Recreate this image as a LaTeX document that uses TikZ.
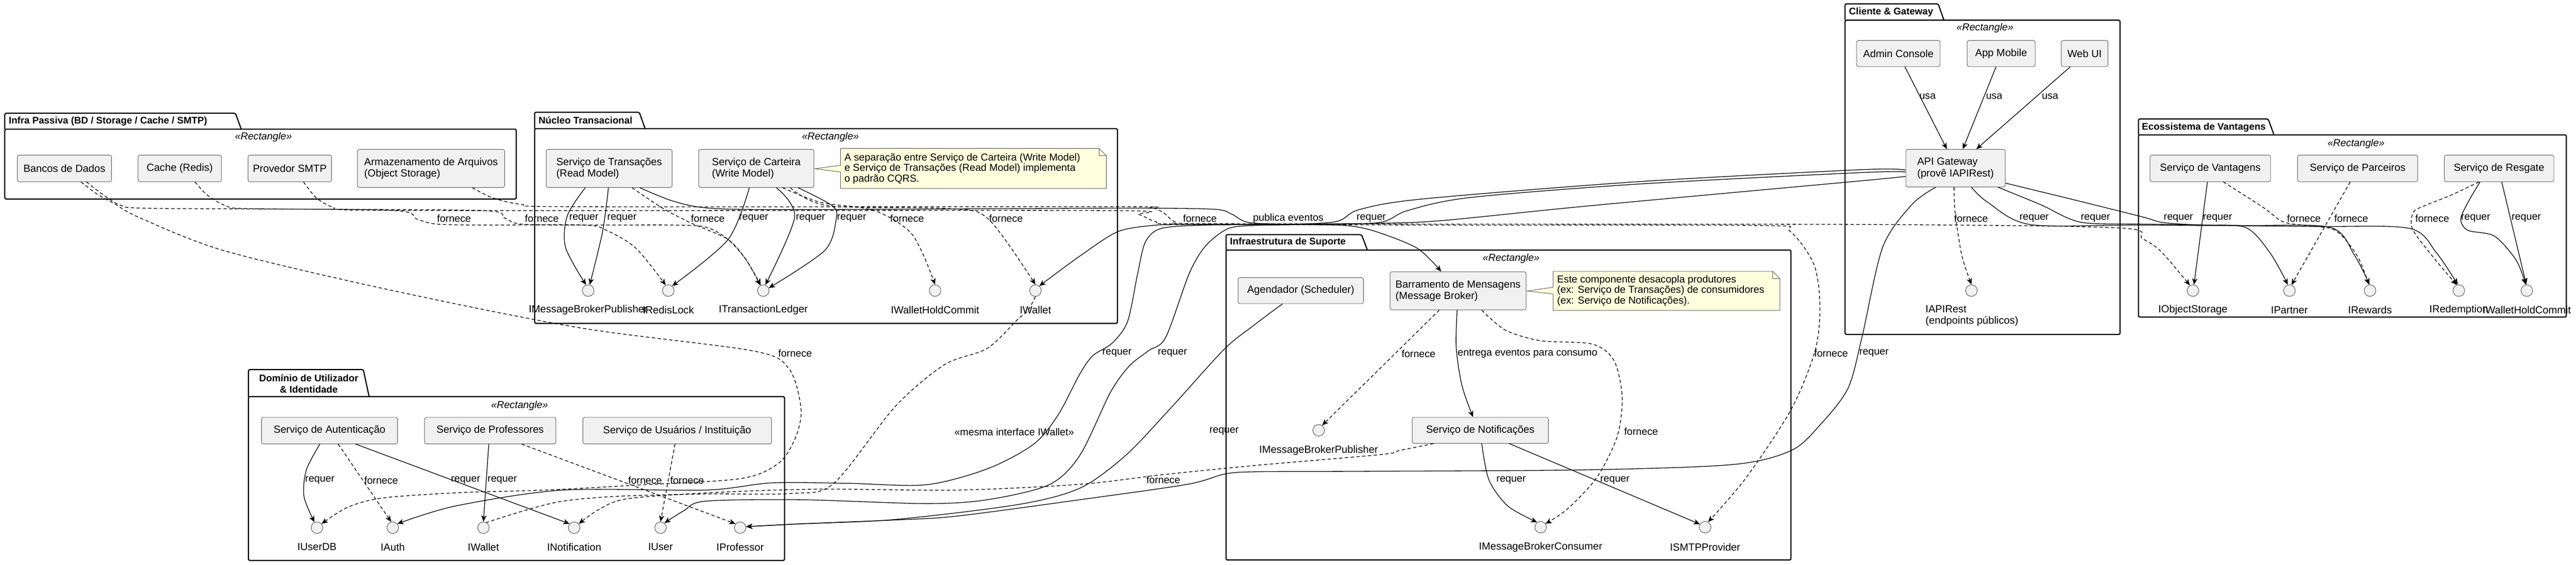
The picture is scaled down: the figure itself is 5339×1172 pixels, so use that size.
\documentclass[tikz,border=0pt]{standalone}
\usepackage{fontspec}
\setmainfont{Liberation Sans}
\usetikzlibrary{arrows.meta}
\definecolor{cfill}{HTML}{F1F1F1}
\definecolor{nfill}{HTML}{FEFFDD}
\newcommand\cfs{\fontsize{21.5}{24}\selectfont}
\newcommand\lfs{\fontsize{21}{24}\selectfont}
\newcommand\nfs{\fontsize{21}{22}\selectfont}
\newcommand\tfs{\fontsize{20}{23}\selectfont\bfseries}
\newcommand\pkgdraw[6]{%
  \draw[pkgline] (#1,#3) -- (#1,#2) -- (#4-12,#2) -- (#4,#3);
  \draw[pkgline] (#1,#3) rectangle (#5,#6);}
\begin{document}
\begin{tikzpicture}[x=1pt,y=-1pt,
 comp/.style={rectangle, rounded corners=4pt, draw=black!65, line width=1pt, fill=cfill, inner sep=0pt, align=left, font=\cfs},
 ifc/.style={circle, draw=black!70, line width=1pt, fill=cfill, minimum size=24pt, inner sep=0pt},
 ilbl/.style={font=\cfs, inner sep=0pt},
 lbl/.style={font=\lfs, inner sep=0pt},
 stereo/.style={font=\lfs\itshape, inner sep=0pt},
 ttl/.style={font=\tfs, inner sep=0pt, anchor=west},
 pkgline/.style={line width=2.4pt, rounded corners=3pt},
 notebg/.style={fill=nfill, draw=black!65, line width=1pt},
 notetxt/.style={font=\nfs, inner sep=0pt, align=left, anchor=west},
 req/.style={line width=1.4pt, -{Stealth[length=13pt,width=11pt,inset=3.5pt]}},
 prov/.style={req, dash pattern=on 7pt off 5pt},
 lnk/.style={line width=1.4pt, dash pattern=on 7pt off 5pt},
 sm/.style={smooth, tension=0.5}
]
\useasboundingbox (0,0) rectangle (5339,1172);

% ---------------- packages ----------------
\pkgdraw{10}{235}{268}{500}{1070}{413}
\pkgdraw{1108}{233}{267}{1337}{2316}{671}
\pkgdraw{515}{767}{823}{765}{1626}{1163}
\pkgdraw{2541}{487}{519}{2834}{3712}{1162}
\pkgdraw{3824}{8}{42}{4029}{4394}{694}
\pkgdraw{4432}{247}{280}{4713}{5319}{658}

\node[ttl] (tInfra) at (18,252) {Infra Passiva (BD / Storage / Cache / SMTP)};
\node[ttl] (tNucleo) at (1116,250) {Núcleo Transacional};
\node[font=\tfs, inner sep=0pt, align=center] (tDom) at (640,796) {Domínio de Utilizador\\\& Identidade};
\node[ttl] (tSup) at (2549,503) {Infraestrutura de Suporte};
\node[ttl] (tCli) at (3832,25) {Cliente \& Gateway};
\node[ttl] (tEco) at (4439,264) {Ecossistema de Vantagens};

\node[stereo] (sInfra) at (546,285) {«Rectangle»};
\node[stereo] (sNucleo) at (1721,285) {«Rectangle»};
\node[stereo] (sDom) at (1077,842) {«Rectangle»};
\node[stereo] (sSup) at (3132,537) {«Rectangle»};
\node[stereo] (sCli) at (4114,58) {«Rectangle»};
\node[stereo] (sEco) at (4883,298) {«Rectangle»};

% ---------------- notes ----------------
\draw[notebg] (1742,308) -- (2278,308) -- (2293,323) -- (2293,391) -- (1742,391) -- (1742,357) -- (1689,350) -- (1742,343) -- cycle;
\draw[notebg, fill=none] (2278,308) -- (2278,323) -- (2293,323);
\node[notetxt] (note1) at (1750,350) {A separação entre Serviço de Carteira (Write Model)\\e Serviço de Transações (Read Model) implementa\\o padrão CQRS.};
\draw[notebg] (3219,563) -- (3674,563) -- (3689,578) -- (3689,644) -- (3219,644) -- (3219,610) -- (3165,604) -- (3219,596) -- cycle;
\draw[notebg, fill=none] (3674,563) -- (3674,578) -- (3689,578);
\node[notetxt] (note2) at (3227,603) {Este componente desacopla produtores\\(ex: Serviço de Transações) de consumidores\\(ex: Serviço de Notificações).};

% ---------------- components ----------------
\node[comp, minimum width=195pt, minimum height=55pt] (bd) at (133.5,349.5) {Bancos de Dados};
\node[comp, minimum width=173pt, minimum height=55pt] (cache) at (372.5,349.5) {Cache (Redis)};
\node[comp, minimum width=173pt, minimum height=55pt] (smtp) at (600.5,349.5) {Provedor SMTP};
\node[comp, minimum width=305pt, minimum height=79pt] (storage) at (893.5,349.5) {Armazenamento de Arquivos\\(Object Storage)};

\node[comp, minimum width=261pt, minimum height=79pt] (trans) at (1262.5,349.5) {Serviço de Transações\\(Read Model)};
\node[comp, minimum width=239pt, minimum height=79pt] (cart) at (1567.5,349.5) {Serviço de Carteira\\(Write Model)};

\node[comp, minimum width=282pt, minimum height=55pt] (auth) at (683,893.5) {Serviço de Autenticação};
\node[comp, minimum width=272pt, minimum height=55pt] (prof) at (1016,893.5) {Serviço de Professores};
\node[comp, minimum width=391pt, minimum height=55pt] (users) at (1403.5,893.5) {Serviço de Usuários / Instituição};

\node[comp, minimum width=260pt, minimum height=54pt] (sched) at (2696,603) {Agendador (Scheduler)};
\node[comp, minimum width=282pt, minimum height=79pt] (broker) at (3022,603.5) {Barramento de Mensagens\\(Message Broker)};
\node[comp, minimum width=282pt, minimum height=54pt] (notif) at (3068,893) {Serviço de Notificações};

\node[comp, minimum width=173pt, minimum height=54pt] (admin) at (3934.5,111) {Admin Console};
\node[comp, minimum width=141pt, minimum height=54pt] (mobile) at (4147.5,111) {App Mobile};
\node[comp, minimum width=97pt, minimum height=54pt] (web) at (4320.5,111) {Web UI};
\node[comp, minimum width=206pt, minimum height=78pt] (gw) at (4053,349) {API Gateway\\(provê IAPIRest)};

\node[comp, minimum width=250pt, minimum height=55pt] (vant) at (4581,349.5) {Serviço de Vantagens};
\node[comp, minimum width=249pt, minimum height=55pt] (parc) at (4886.5,349.5) {Serviço de Parceiros};
\node[comp, minimum width=227pt, minimum height=55pt] (resg) at (5179.5,349.5) {Serviço de Resgate};

% ---------------- interfaces ----------------
\node[ifc] (impub) at (1219,603) {};
\node[ifc] (iredis) at (1385,603) {};
\node[ifc] (iledger) at (1582,603) {};
\node[ifc] (iwhc) at (1938,603) {};
\node[ifc] (iwallet) at (2146,603) {};
\node[ilbl] (impubL) at (1219,643) {IMessageBrokerPublisher};
\node[ilbl] (iredisL) at (1385,643) {IRedisLock};
\node[ilbl] (iledgerL) at (1582,643) {ITransactionLedger};
\node[ilbl] (iwhcL) at (1938,643) {IWalletHoldCommit};
\node[ilbl] (iwalletL) at (2146,643) {IWallet};

\node[ifc] (iuserdb) at (657,1095) {};
\node[ifc] (iauth) at (814,1095) {};
\node[ifc] (iwallet2) at (1002,1095) {};
\node[ifc] (inotif) at (1190,1095) {};
\node[ifc] (iuser) at (1369,1095) {};
\node[ifc] (iprof) at (1534,1095) {};
\node[ilbl] (iuserdbL) at (657,1135) {IUserDB};
\node[ilbl] (iauthL) at (814,1135) {IAuth};
\node[ilbl] (iwallet2L) at (1002,1135) {IWallet};
\node[ilbl] (inotifL) at (1190,1135) {INotification};
\node[ilbl] (iuserL) at (1369,1135) {IUser};
\node[ilbl] (iprofL) at (1534,1135) {IProfessor};

\node[ifc] (impub2) at (2733,893) {};
\node[ifc] (imcons) at (3193,1094) {};
\node[ifc] (ismtp) at (3534,1094) {};
\node[ilbl] (impub2L) at (2733,935) {IMessageBrokerPublisher};
\node[ilbl] (imconsL) at (3193,1135) {IMessageBrokerConsumer};
\node[ilbl] (ismtpL) at (3534,1135) {ISMTPProvider};

\node[ifc] (iapi) at (4086,603) {};
\node[ilbl, align=left] (iapiL) at (4087,655) {IAPIRest\\(endpoints públicos)};

\node[ifc] (iobj) at (4545,603) {};
\node[ifc] (ipart) at (4745,603) {};
\node[ifc] (irew) at (4912,603) {};
\node[ifc] (iredem) at (5096,603) {};
\node[ifc] (iwhc2) at (5237,603) {};
\node[ilbl] (iobjL) at (4545,643) {IObjectStorage};
\node[ilbl] (ipartL) at (4745,643) {IPartner};
\node[ilbl] (irewL) at (4912,643) {IRewards};
\node[ilbl] (iredemL) at (5096,643) {IRedemption};
\node[ilbl] (iwhc2L) at (5237,643) {IWalletHoldCommit};

% ---------------- connectors: Cliente & Gateway ----------------
\draw[req] ([xshift=13.5pt]admin.south) -- ([xshift=-18pt]gw.north);
\draw[req] ([xshift=-10.5pt]mobile.south) -- ([xshift=15pt]gw.north);
\draw[req] ([xshift=-29.5pt]web.south) -- ([xshift=43pt]gw.north);
\draw[prov] plot[sm] coordinates {([xshift=-3pt]gw.south) (4052,440) (4066,530) (iapi.north)};
% gateway -> right
\draw[req] plot[sm] coordinates {([xshift=33pt]gw.south) (4120,420) (4208,466) (4440,467) (4800,470) (4994,474) (5050,525) (iredem.100)};
\draw[req] plot[sm] coordinates {([xshift=88pt]gw.south) (4230,425) (4312,461) (4440,465) (4650,468) (4830,472) (4880,530) (irew.95)};
\draw[req] plot[sm] coordinates {([yshift=-31pt]gw.east) (4300,415) (4440,450) (4484,462) (4560,467) (4654,472) (4705,525) (ipart.105)};
% gateway -> left
\draw[req] plot[sm] coordinates {([yshift=-17pt]gw.west) (3860,375) (3295,427) (2997,457) (2877,463) (2700,465) (2450,466) (2387,468) (2316,481) (2240,530) (iwallet.50)};
\draw[req] plot[sm] coordinates {([yshift=-4pt]gw.west) (3860,352) (3395,377) (2947,413) (2817,435) (2768,460) (2650,466) (2500,467) (2407,474) (2374,502) (2358,567) (2337,667) (2305,712) (2265,738) (2238,776) (2193,861) (2142,922) (2046,973) (1919,1006) (1759,1003) (1600,1002) (1462,1017) (1166,1017) (944,1050) (iauth.40)};
\draw[req] plot[sm] coordinates {([yshift=-8pt]gw.west) (3860,358) (3395,382) (3046,410) (2917,437) (2857,462) (2700,466) (2594,468) (2544,475) (2499,510) (2465,567) (2416,700) (2380,728) (2340,760) (2301,815) (2238,945) (2174,1006) (2046,1037) (1919,1045) (1660,1037) (1462,1040) (1417,1060) (iuser.50)};
\draw[req] plot[sm] coordinates {([xshift=-41pt]gw.south) (3963,424) (3902,513) (3859,700) (3830,806) (3772,882) (3712,935) (3591,964) (3285,975) (2826,978) (2600,979) (2537,984) (2461,1005) (2238,1037) (1983,1071) (1855,1079) (1660,1087) (iprof.10)};

% ---------------- connectors: Infra Passiva ----------------
\draw[prov] plot[sm] coordinates {([xshift=34.5pt]bd.south) (200,402) (236,422) (290,452) (464,520) (800,600) (1200,680) (1560,728) (1635,765) (1660,846) (1650,905) (1615,960) (1536,993) (1314,1007) (1129,1017) (959,1022) (796,1033) (722,1052) (iuserdb.40)};
\draw[prov] plot[sm] coordinates {([xshift=45.5pt]bd.south) (215,405) (250,426) (300,432) (600,434) (1000,437) (1045,452) (1080,465) (1200,467) (1400,467) (1465,472) (1509,497) (1547,540) (iledger.120)};
\draw[prov] plot[sm] coordinates {([xshift=31.5pt]cache.south) (430,405) (470,428) (520,433) (820,437) (865,455) (905,465) (1000,467) (1210,467) (1257,478) (1318,515) (iredis.115)};
\draw[prov] plot[sm] coordinates {([xshift=28.5pt]smtp.south) (655,410) (690,430) (740,436) (1200,437) (2300,437) (2360,445) (2395,460) (2450,465) (3000,467) (3650,468) (3710,480) (3760,550) (3772,640) (3761,731) (3712,850) (3620,990) (ismtp.60)};
\draw[prov] plot[sm] coordinates {([xshift=85.5pt]storage.south) (1020,410) (1080,424) (1200,429) (2300,429) (2385,431) (2412,442) (2435,460) (2480,464) (3000,465) (3900,466) (4392,473) (4440,495) (4479,522) (iobj.120)};

% ---------------- connectors: Nucleo ----------------
\draw[req] plot[sm] coordinates {([xshift=-49.5pt]trans.south) (1176,447) (1172,513) (impub.110)};
\draw[req] plot[sm] coordinates {([xshift=-1.5pt]trans.south) (1249,480) (impub.75)};
\draw[prov] plot[sm] coordinates {([xshift=47.5pt]trans.south) (1375,433) (1433,463) (1509,497) (1547,540) (iledger.115)};
\draw[req] plot[sm] coordinates {([xshift=63.5pt]trans.south) (1394,417) (1471,432) (1650,435) (2300,432) (2511,434) (2552,444) (2590,462) (2700,466) (2790,468) (2850,480) (2937,515) ([xshift=-35pt]broker.north)};
\draw[req] plot[sm] coordinates {([xshift=-14.5pt]cart.south) (1509,497) (iredis.50)};
\draw[req] plot[sm] coordinates {([xshift=41.5pt]cart.south) (1647,450) (iledger.70)};
\draw[req] plot[sm] coordinates {([xshift=86.5pt]cart.south) (1725,427) (1733,455) (1709,520) (iledger.25)};
\draw[prov] plot[sm] coordinates {([xshift=54.5pt]cart.south) (1701,420) (1812,437) (1891,487) (iwhc.north)};
\draw[prov] plot[sm] coordinates {([xshift=70.5pt]cart.south) (1717,427) (1970,433) (2049,455) (iwallet.north)};
\draw[lnk] plot[sm] coordinates {(iwallet.south) (2130,645) (2110,662) (2046,723) (1957,757) (1855,844) (1728,1003) (1640,1024) (1462,1025) (1277,1030) (1166,1040) (1092,1058) (iwallet2.60)};

% ---------------- connectors: Dominio ----------------
\draw[req] plot[sm] coordinates {([xshift=-20pt]auth.south) (635,975) (630,1030) (iuserdb.115)};
\draw[prov] ([xshift=18pt]auth.south) -- (iauth.105);
\draw[req] ([xshift=54pt]auth.south) -- (inotif.140);
\draw[req] ([xshift=-3pt]prof.south) -- (iwallet2.north);
\draw[prov] ([xshift=65pt]prof.south) -- (iprof.140);
\draw[prov] ([xshift=-4.5pt]users.south) -- (iuser.north);

% ---------------- connectors: Suporte ----------------
\draw[req] plot[sm] coordinates {([xshift=-38pt]sched.south) (2600,674) (2537,725) (2429,844) (2333,945) (2238,1013) (2110,1047) (1855,1078) (1660,1087) (iprof.10)};
\draw[prov] ([xshift=-39pt]broker.south) -- (impub2.55);
\draw[req] plot[sm] coordinates {([xshift=-2pt]broker.south) (3018,720) (3030,800) ([xshift=-15pt]notif.north)};
\draw[prov] plot[sm] coordinates {([xshift=49pt]broker.south) (3120,685) (3193,707) (3300,714) (3345,748) (3362,823) (3352,905) (3310,990) (3250,1055) (imcons.35)};
\draw[req] plot[sm] coordinates {([xshift=3pt]notif.south) (3086,996) (3125,1050) (imcons.125)};
\draw[req] ([xshift=60pt]notif.south) -- (ismtp.150);
\draw[prov] plot[sm] coordinates {([xshift=-97pt]notif.south) (2900,935) (2864,943) (2600,966) (2410,985) (2238,1005) (1983,1017) (1700,1015) (1480,1022) (1300,1035) (1240,1058) (inotif.40)};

% ---------------- connectors: Ecossistema ----------------
\draw[req] ([xshift=-6pt]vant.south) -- (iobj.80);
\draw[prov] plot[sm] coordinates {([xshift=27pt]vant.south) (4690,430) (4731,460) (4778,468) (4840,478) (4885,530) (irew.100)};
\draw[prov] ([xshift=-15.5pt]parc.south) -- (ipart.70);
\draw[prov] plot[sm] coordinates {([xshift=-41.5pt]resg.south) (5080,405) (5030,425) (5002,440) (5000,475) (5040,530) (iredem.110)};
\draw[req] plot[sm] coordinates {([xshift=-39.5pt]resg.south) (5115,420) (5100,455) (5115,478) (5170,490) (5215,540) (iwhc2.100)};
\draw[req] ([xshift=5.5pt]resg.south) -- (iwhc2.95);

% ---------------- labels ----------------
\node[lbl] (lu1) at (3995,200) {usa};
\node[lbl] (lu2) at (4133,200) {usa};
\node[lbl] (lu3) at (4249,200) {usa};
\node[lbl] (lg0) at (4085,453) {fornece};
\node[lbl] (lg1) at (4216,453) {requer};
\node[lbl] (lg2) at (4343,453) {requer};
\node[lbl] (lg3) at (4515,453) {requer};
\node[lbl] (lg4) at (2842,453) {requer};
\node[lbl] (lg5) at (2315,733) {requer};
\node[lbl] (lg6) at (2430,733) {requer};
\node[lbl] (lg7) at (3884,733) {requer};
\node[lbl] (li1) at (1648,733) {fornece};
\node[lbl] (li2) at (1123,453) {fornece};
\node[lbl] (li3) at (941,453) {fornece};
\node[lbl] (li4) at (3795,733) {fornece};
\node[lbl] (li5) at (2487,453) {fornece};
\node[lbl] (lt1) at (1210,453) {requer};
\node[lbl] (lt2) at (1289,453) {requer};
\node[lbl] (lt3) at (1467,453) {fornece};
\node[lbl] (lt4) at (2670,453) {publica eventos};
\node[lbl] (lc1) at (1562,453) {requer};
\node[lbl] (lc2) at (1680,453) {requer};
\node[lbl] (lc3) at (1765,453) {requer};
\node[lbl] (lc4) at (1880,453) {fornece};
\node[lbl] (lc5) at (2085,453) {fornece};
\node[lbl] (lw) at (2102,896) {«mesma interface IWallet»};
\node[lbl] (ld1) at (663,997) {requer};
\node[lbl] (ld2) at (790,997) {fornece};
\node[lbl] (ld3) at (965,997) {requer};
\node[lbl] (ld4) at (1041,997) {requer};
\node[lbl] (ld5) at (1337,997) {fornece};
\node[lbl] (ld6) at (1424,997) {fornece};
\node[lbl] (ls0) at (2537,895) {requer};
\node[lbl] (ls1) at (2940,734) {fornece};
\node[lbl, anchor=west] (ls2) at (3021,734) {entrega eventos para consumo};
\node[lbl, anchor=west] (ls3) at (3366,895) {fornece};
\node[lbl] (ls4) at (3132,997) {requer};
\node[lbl] (ls5) at (3347,997) {requer};
\node[lbl] (ls6) at (2411,996) {fornece};
\node[lbl] (le1) at (4596,453) {requer};
\node[lbl] (le2) at (4775,453) {fornece};
\node[lbl] (le3) at (4873,453) {fornece};
\node[lbl] (le4) at (5041,453) {fornece};
\node[lbl] (le5) at (5131,453) {requer};
\node[lbl] (le6) at (5236,453) {requer};
\end{tikzpicture}
\end{document}
